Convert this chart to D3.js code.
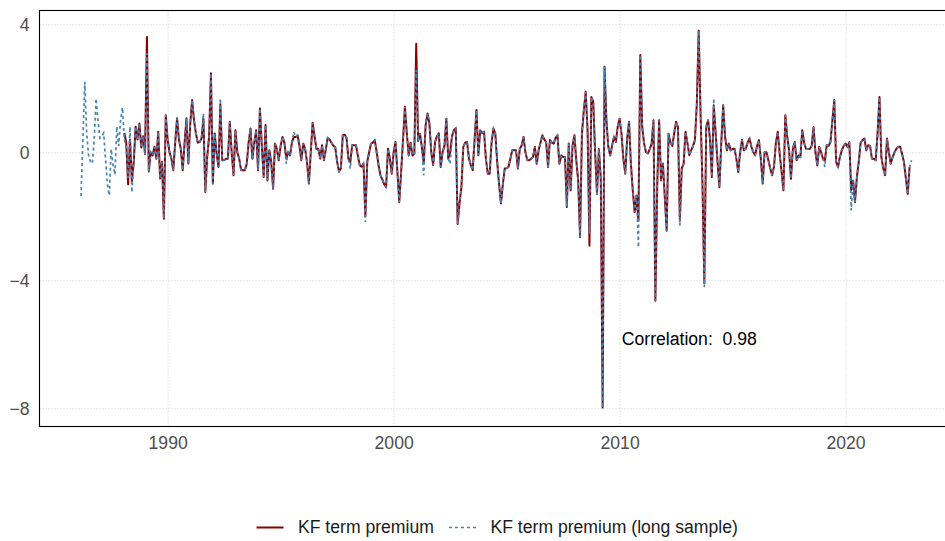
<!DOCTYPE html>
<html>
<head>
<meta charset="utf-8">
<script src="https://cdn.jsdelivr.net/npm/d3@7"></script>
<style>
  body { margin: 0; background: #fff; }
  svg { display: block; font-family: "Liberation Sans", Arial, Helvetica, sans-serif; }
</style>
</head>
<body>
<svg id="chart" width="945" height="541"></svg>
<script>
// Monthly term premium estimates (percentage points)
const yearTicks = [1990, 2000, 2010, 2020];
const valueTicks = [4, 0, -4, -8];
const seriesNames = ["KF term premium", "KF term premium (long sample)"];
const correlation = 0.98;

// first observation of each series: [year, month]
const longSampleStart = [1986, 3];
const kfStart = [1988, 2];

// KF term premium, long sample (Mar 1986 - Dec 2022)
const longSample = [
  -1.37, 0.4, 2.2, 0.6, -0.1, -0.3, -0.35, 0.4, 1.68, 1.0,
  0.44, 0.5, 0.6, -0.2, -1.0, -1.35, 0.1, -0.4, -0.7, 0.8, 0.2, 1.0,
  1.4, 0.4, 0.2, -0.8, 0.8, -1.25, -0.3, 0.8, 0.4, 0.9, 0.15, 0.5,
  -0.05, 3.1, -0.6, 0.0, -0.1, 0.17, -0.2, 0.64, -0.82, -0.3, -2.08, 1.16,
  0.38, 0.0, -0.2, -0.56, 0.3, 1.06, 0.4, 0.1, -0.56, 0.3, 1.06, -0.35,
  0.9, 1.63, 1.0, 0.59, 0.3, 0.32, 0.43, 1.21, -1.24, -0.15, 0.48, 2.47,
  -0.98, 0.59, -0.04, -0.46, 1.68, -0.25, -0.25, -0.2, -0.2, 0.95, 0.0, -0.72,
  0.69, 0.0, -0.2, -0.56, -0.56, -0.56, -0.36, 0.3, 0.74, -0.2, 0.3, 0.69,
  -0.56, 1.37, 0.2, -0.77, 0.85, -0.88, 0.06, -0.3, -1.14, 0.27, 0.1, -0.25,
  0.2, 0.48, 0.3, -0.36, 0.0, -0.1, 0.3, 0.64, 0.48, 0.53, 0.2, -0.25,
  0.27, 0.11, -0.3, -0.98, 0.0, 0.92, 0.5, 0.11, 0.11, -0.2, 0.22, -0.25,
  0.1, 0.45, 0.4, 0.3, 0.2, 0.16, -0.3, -0.6, -0.5, 0.53, 0.55, 0.45,
  -0.2, -0.51, 0.22, 0.22, 0.22, -0.1, -0.41, -0.45, -0.35, -2.18, -0.3, 0.0,
  0.27, 0.3, 0.38, 0.0, -0.4, -0.72, -0.85, -1.0, -1.09, 0.11, -0.2, -0.67,
  0.0, 0.32, -0.6, -1.56, -0.6, 0.4, 1.42, 0.6, -0.1, 0.3, -0.1, -0.05,
  2.57, 0.35, 0.58, 0.17, -0.72, 0.85, 1.21, 0.9, 0.0, -0.4, 0.32, 0.5,
  0.59, -0.46, 0.0, 0.2, 1.05, -0.2, -0.36, 0.5, 0.69, 0.75, -2.24, -1.6,
  -1.09, 0.17, 0.3, 0.32, -0.2, -0.4, -0.56, 0.4, 1.32, -0.09, 0.69, 0.6,
  0.64, -0.2, -0.67, -0.67, 0.3, 0.74, 0.59, -0.3, -1.0, -1.6, -1.0, -0.51,
  -0.5, -0.46, -0.2, 0.06, 0.06, 0.06, -0.51, 0.1, 0.22, 0.48, 0.0, -0.25,
  -0.25, -0.2, -0.15, 0.17, -0.36, 0.06, 0.3, 0.53, 0.4, 0.32, -0.46, 0.38,
  0.3, 0.27, 0.45, 0.53, -0.36, -0.1, -0.15, -0.15, -1.71, 0.27, -1.19, 0.2,
  0.53, -0.25, -0.88, -2.65, 0.58, 1.3, 1.89, 0.69, -2.55, 1.73, 1.58, 0.0,
  -1.3, 0.1, -0.8, -7.98, 2.67, 1.0, 0.17, -0.1, 0.2, 0.48, 0.32, 0.8,
  1.05, 0.58, -0.2, -0.67, 0.4, 0.95, -0.36, -1.2, -1.87, -1.35, -2.97, 3.04,
  0.8, 0.27, 0.0, -0.04, 0.1, 0.27, 1.0, -4.64, -1.0, 1.0, -0.88, -0.35,
  -1.4, -2.45, 0.58, 0.3, 0.2, 0.6, 0.95, 0.79, -2.29, -0.5, -0.36, 0.64,
  0.3, -0.09, 0.06, 0.2, 0.38, 1.5, 3.8, 1.2, -1.0, -4.22, 0.79, 1.0,
  0.4, -0.77, 1.68, 0.6, -0.3, -1.09, 0.3, 1.47, 0.5, 0.06, 0.27, 0.06,
  0.1, 0.11, -0.2, -0.62, 0.0, 0.38, 0.06, 0.11, 0.3, 0.43, 0.17, 0.0,
  -0.09, 0.2, 0.38, -0.2, -0.98, 0.0, 0.0, -0.25, -0.5, -0.72, -0.45, 0.3,
  0.64, -0.04, -0.6, -1.19, 1.16, 0.5, 0.06, -0.83, 0.1, 0.32, -0.25, -0.1,
  -0.15, 0.69, 0.3, 0.1, 0.1, 0.1, 0.2, 0.79, 0.0, -0.41, 0.17, 0.0,
  -0.2, -0.46, 0.22, 0.2, 0.32, 1.0, 1.63, -0.3, -0.46, -0.15, 0.06, 0.2,
  0.27, 0.17, 0.32, -1.82, -0.88, -1.56, -0.78, -0.3, 0.3, 0.38, 0.43, 0.06,
  0.22, 0.2, -0.2, -0.2, -0.25, 0.6, 1.73, -0.15, -0.5, -0.72, 0.43, 0.0,
  -0.36, -0.15, 0.0, 0.11, 0.17, 0.17, -0.05, -0.3, -0.8, -1.3, -0.46, -0.25
];

// KF term premium (Feb 1988 - Nov 2022)
const kfPremium = [
  0.6, 0.3, -1.0, 0.4, -0.9, -0.3, 0.8, 0.4, 0.9, 0.15, 0.5,
  -0.05, 3.6, -0.6, 0.0, -0.1, 0.17, -0.2, 0.64, -0.82, -0.3, -2.08, 1.16,
  0.38, 0.0, -0.2, -0.56, 0.3, 1.06, 0.4, 0.1, -0.56, 0.3, 1.06, -0.35,
  0.9, 1.63, 1.0, 0.59, 0.3, 0.32, 0.43, 1.05, -1.24, -0.15, 0.48, 2.47,
  -0.98, 0.59, -0.04, -0.46, 1.5, -0.25, -0.25, -0.2, -0.2, 0.95, 0.0, -0.72,
  0.69, 0.0, -0.2, -0.56, -0.56, -0.56, -0.36, 0.3, 0.74, -0.2, 0.3, 0.69,
  -0.56, 1.37, 0.2, -0.77, 0.85, -0.88, 0.06, -0.3, -1.14, 0.27, 0.1, -0.25,
  0.2, 0.48, 0.3, -0.2, 0.0, -0.1, 0.3, 0.48, 0.48, 0.53, 0.2, -0.25,
  0.27, 0.11, -0.3, -0.98, 0.0, 0.92, 0.5, 0.11, 0.11, -0.2, 0.22, -0.25,
  0.1, 0.45, 0.4, 0.3, 0.2, 0.16, -0.3, -0.6, -0.5, 0.53, 0.55, 0.45,
  -0.2, -0.3, 0.22, 0.22, 0.22, -0.1, -0.41, -0.45, -0.35, -2.0, -0.3, 0.0,
  0.27, 0.3, 0.38, 0.0, -0.4, -0.72, -0.85, -1.0, -1.09, 0.11, -0.2, -0.67,
  0.0, 0.32, -0.6, -1.56, -0.6, 0.4, 1.42, 0.6, -0.1, 0.3, -0.1, -0.05,
  3.39, 0.35, 0.58, 0.17, -0.35, 0.85, 1.21, 0.9, 0.0, -0.4, 0.32, 0.5,
  0.59, -0.46, 0.0, 0.2, 1.05, -0.2, 0.0, 0.5, 0.69, 0.75, -2.24, -1.6,
  -1.09, 0.17, 0.3, 0.32, -0.2, -0.4, -0.56, 0.4, 1.32, -0.09, 0.69, 0.6,
  0.64, -0.2, -0.67, -0.67, 0.3, 0.74, 0.59, -0.3, -1.0, -1.6, -1.0, -0.51,
  -0.5, -0.46, -0.2, 0.06, 0.06, 0.06, -0.51, 0.1, 0.22, 0.48, 0.0, -0.25,
  -0.25, -0.2, -0.15, 0.17, -0.36, 0.06, 0.3, 0.53, 0.4, 0.32, -0.46, 0.38,
  0.3, 0.27, 0.45, 0.53, -0.36, -0.1, -0.15, -0.15, -1.71, 0.27, -1.19, 0.2,
  0.53, -0.25, -0.88, -2.65, 0.58, 1.3, 1.89, 0.69, -2.92, 1.73, 1.58, 0.0,
  -1.3, 0.1, -0.8, -7.98, 2.67, 1.0, 0.17, -0.1, 0.2, 0.48, 0.32, 0.8,
  1.05, 0.58, -0.2, -0.67, 0.4, 0.95, -0.36, -1.2, -1.87, -1.35, -2.13, 3.04,
  0.8, 0.27, 0.0, -0.04, 0.1, 0.27, 1.0, -4.64, -1.0, 1.0, -0.88, -0.35,
  -1.4, -2.45, 0.58, 0.3, 0.2, 0.6, 0.95, 0.79, -2.13, -0.5, -0.36, 0.64,
  0.3, -0.09, 0.06, 0.2, 0.38, 1.5, 3.8, 1.2, -1.0, -4.1, 0.79, 1.0,
  0.4, -0.77, 1.47, 0.6, -0.3, -1.09, 0.3, 1.47, 0.5, 0.06, 0.27, 0.06,
  0.1, 0.11, -0.2, -0.62, 0.0, 0.38, 0.06, 0.11, 0.3, 0.43, 0.17, 0.0,
  -0.09, 0.2, 0.38, -0.2, -0.98, 0.0, 0.0, -0.25, -0.5, -0.72, -0.45, 0.3,
  0.64, -0.04, -0.6, -1.19, 1.16, 0.5, 0.06, -0.83, 0.1, 0.32, -0.25, -0.1,
  -0.15, 0.69, 0.3, 0.1, 0.1, 0.1, 0.2, 0.79, 0.0, -0.41, 0.17, 0.0,
  -0.2, -0.25, 0.22, 0.2, 0.32, 1.0, 1.63, -0.3, -0.46, -0.15, 0.06, 0.2,
  0.27, 0.17, 0.32, -1.19, -0.88, -1.56, -0.78, -0.3, 0.3, 0.38, 0.43, 0.06,
  0.22, 0.2, -0.2, -0.2, -0.25, 0.6, 1.73, -0.15, -0.5, -0.72, 0.43, 0.0,
  -0.36, -0.15, 0.0, 0.11, 0.17, 0.17, -0.05, -0.3, -0.8, -1.3, -0.46
];

const toPoints = (values, start) =>
  values.map((v, k) => ({ t: start[0] + (start[1] - 1 + k) / 12, v }));

const longPts = toPoints(longSample, longSampleStart);
const kfPts = toPoints(kfPremium, kfStart);

const svg = d3.select("#chart");
const panel = { left: 39.5, top: 10.5, right: 953, bottom: 426.5 };

// time axis padded 5% on each side of the data span
const tExt = d3.extent(longPts, d => d.t);
const tPad = (tExt[1] - tExt[0]) * 0.05;
const x = d3.scaleLinear()
  .domain([tExt[0] - tPad, tExt[1] + tPad])
  .range([panel.left, panel.right]);

const y = d3.scaleLinear()
  .domain([-8.57, 4.43])
  .range([panel.bottom, panel.top]);

const gridColor = "#cfcfcf";

// grid lines
const grid = svg.append("g");
grid.append("g")
  .attr("transform", `translate(0,${panel.bottom})`)
  .call(d3.axisBottom(x).tickValues(yearTicks).tickSize(-(panel.bottom - panel.top)).tickFormat(""))
  .call(g => g.select(".domain").remove())
  .call(g => g.selectAll("line").attr("stroke", gridColor).attr("stroke-width", 1).attr("stroke-dasharray", "1,2"));
grid.append("g")
  .attr("transform", `translate(${panel.left},0)`)
  .call(d3.axisLeft(y).tickValues(valueTicks).tickSize(-(panel.right - panel.left)).tickFormat(""))
  .call(g => g.select(".domain").remove())
  .call(g => g.selectAll("line").attr("stroke", gridColor).attr("stroke-width", 1).attr("stroke-dasharray", "1,2"));

// series
const line = d3.line().x(d => x(d.t)).y(d => y(d.v));
svg.append("clipPath").attr("id", "panel-clip")
  .append("rect").attr("x", panel.left).attr("y", panel.top)
  .attr("width", panel.right - panel.left).attr("height", panel.bottom - panel.top);

const series = svg.append("g").attr("clip-path", "url(#panel-clip)");
series.append("path").datum(kfPts)
  .attr("d", line).attr("fill", "none")
  .attr("stroke", "#8b0000").attr("stroke-width", 2)
  .attr("stroke-linejoin", "round");
series.append("path").datum(longPts)
  .attr("d", line).attr("fill", "none")
  .attr("stroke", "#4682b4").attr("stroke-width", 1.7)
  .attr("stroke-dasharray", "3,3");

// panel frame
svg.append("rect")
  .attr("x", panel.left).attr("y", panel.top)
  .attr("width", panel.right - panel.left).attr("height", panel.bottom - panel.top)
  .attr("fill", "none").attr("stroke", "#000").attr("stroke-width", 1.1);

// axis labels
const fontSize = 17.6;
svg.append("g")
  .attr("transform", `translate(0,${panel.bottom})`)
  .call(d3.axisBottom(x).tickValues(yearTicks).tickSize(0).tickPadding(0).tickFormat(d3.format("d")))
  .call(g => g.select(".domain").remove())
  .call(g => g.selectAll("text")
    .attr("y", 22.8).attr("dy", null)
    .attr("fill", "#4d4d4d").attr("font-size", fontSize)
    .attr("font-family", "'Liberation Sans', Arial, sans-serif"));

svg.append("g")
  .attr("transform", `translate(${panel.left},0)`)
  .call(d3.axisLeft(y).tickValues(valueTicks).tickSize(0).tickPadding(0)
    .tickFormat(d => d < 0 ? "\u2212" + Math.abs(d) : String(d)))
  .call(g => g.select(".domain").remove())
  .call(g => g.selectAll("text")
    .attr("x", -10).attr("dy", "0.36em")
    .attr("fill", "#4d4d4d").attr("font-size", fontSize)
    .attr("font-family", "'Liberation Sans', Arial, sans-serif"));

// correlation note
svg.append("text")
  .attr("x", x(2010.1)).attr("y", 345)
  .attr("font-size", fontSize).attr("fill", "#000")
  .attr("xml:space", "preserve")
  .style("white-space", "pre")
  .text("Correlation:  " + correlation.toFixed(2));

// legend
const legend = svg.append("g").attr("transform", "translate(0,527.5)");
const legendItems = [
  { name: seriesNames[0], x0: 256.5, stroke: "#8b0000", width: 2, dash: null },
  { name: seriesNames[1], x0: 449, stroke: "#4682b4", width: 1.7, dash: "3,3" }
];
legendItems.forEach(it => {
  legend.append("line")
    .attr("x1", it.x0).attr("x2", it.x0 + 27).attr("y1", 0).attr("y2", 0)
    .attr("stroke", it.stroke).attr("stroke-width", it.width)
    .attr("stroke-dasharray", it.dash);
  legend.append("text")
    .attr("x", it.x0 + 41.5).attr("y", 5.5)
    .attr("font-size", fontSize).attr("fill", "#1a1a1a")
    .text(it.name);
});
</script>
</body>
</html>
